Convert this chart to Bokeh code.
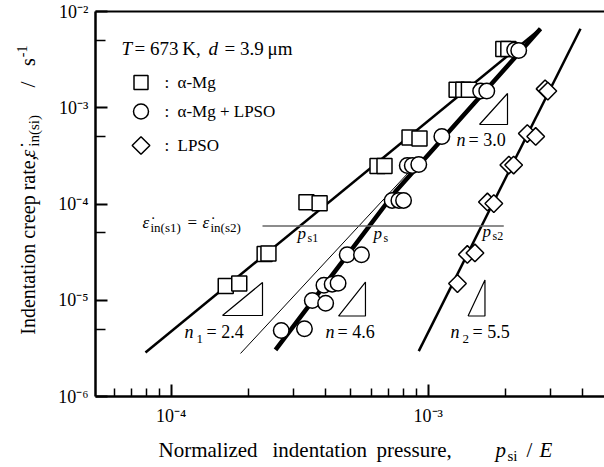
import math
from bokeh.plotting import figure
from bokeh.layouts import column, row
from bokeh.models import (Label, FixedTicker, LogAxis, CustomJSTickFormatter)
from bokeh.embed import file_html
from bokeh.resources import INLINE

# ---------------- data ----------------
# alpha-Mg (squares)
sq_x = [1.63e-4, 1.84e-4, 2.31e-4, 2.39e-4, 3.36e-4, 3.78e-4, 6.35e-4, 6.76e-4,
        8.46e-4, 9.25e-4, 1.29e-3, 1.37e-3, 1.44e-3, 1.96e-3, 2.05e-3]
sq_y = [1.41e-5, 1.49e-5, 3.02e-5, 3.06e-5, 1.04e-4, 1.02e-4, 2.48e-4, 2.48e-4,
        4.91e-4, 4.79e-4, 1.54e-3, 1.54e-3, 1.54e-3, 4.08e-3, 4.08e-3]
# alpha-Mg + LPSO (circles)
ci_x = [2.68e-4, 3.30e-4, 3.54e-4, 3.99e-4, 3.93e-4, 4.23e-4, 4.46e-4, 4.84e-4,
        5.50e-4, 7.24e-4, 7.69e-4, 8.02e-4, 8.29e-4, 8.67e-4, 9.19e-4, 1.13e-3,
        1.60e-3, 1.69e-3, 2.17e-3, 2.25e-3]
ci_y = [4.85e-6, 5.05e-6, 9.94e-6, 9.32e-6, 1.43e-5, 1.47e-5, 1.50e-5, 2.97e-5,
        2.97e-5, 1.09e-4, 1.09e-4, 1.09e-4, 2.51e-4, 2.51e-4, 2.57e-4, 5.03e-4,
        1.49e-3, 1.49e-3, 3.98e-3, 3.94e-3]
# LPSO (diamonds)
di_x = [1.30e-3, 1.42e-3, 1.52e-3, 1.70e-3, 1.80e-3, 2.06e-3, 2.15e-3, 2.43e-3,
        2.62e-3, 2.85e-3, 2.92e-3]
di_y = [1.49e-5, 2.99e-5, 3.10e-5, 1.05e-4, 1.01e-4, 2.54e-4, 2.54e-4, 5.40e-4,
        5.03e-4, 1.57e-3, 1.49e-3]

# fitted lines
fit_sq_x = [7.94e-5, 2.735e-3]
fit_sq_y = [2.86e-6, 6.61e-3]
fit_ci_x = [2.546e-4, 7.46e-4, 2.735e-3]
fit_ci_y = [3.05e-6, 1.349e-4, 6.61e-3]
thin_x = [1.861e-4, 8.46e-4]
thin_y = [2.80e-6, 2.18e-4]
fit_di_x = [9.19e-4, 3.914e-3]
fit_di_y = [2.96e-6, 6.61e-3]
eq_rate = 5.9e-5
eq_x = [2.266e-4, 1.968e-3]

# slope triangles: (x_left, x_right, y_low, y_high)
tri_n1 = (1.583e-4, 2.266e-4, 6.94e-6, 1.529e-5)
tri_n46 = (4.477e-4, 5.70e-4, 6.86e-6, 1.547e-5)
tri_n30 = (1.583e-3, 2.035e-3, 6.70e-4, 1.406e-3)
tri_n2 = (1.429e-3, 1.663e-3, 6.86e-6, 1.623e-5)

x_major = [1e-4, 1e-3]
x_minor = [6e-5, 7e-5, 8e-5, 9e-5, 2e-4, 3e-4, 4e-4, 5e-4, 6e-4, 7e-4, 8e-4, 9e-4,
           2e-3, 3e-3, 4e-3]
y_major = [1e-6, 1e-5, 1e-4, 1e-3, 1e-2]
y_minor = [5e-6, 5e-5, 5e-4, 5e-3]

# ---------------- layout ----------------
W, H = 604, 467
LEFT_W = 48              # strip holding the y title
MAIN_H = 430             # height of the main figure
FL, FT = 95, 11          # frame left / top (page px)
FB = 396                 # frame bottom
XS, YS = 257.0, 96.25    # px per decade
XL = -4.0 - (170.7 - FL) / XS
XR = XL + (W - FL) / XS
BASE_K = 0.37            # baseline correction (fraction of font size)

SERIF = "Liberation Serif"

p = figure(width=W - LEFT_W, height=MAIN_H, x_axis_type="log", y_axis_type="log",
           x_range=(10 ** XL, 10 ** XR), y_range=(1e-6, 1e-2),
           output_backend="svg", toolbar_location=None, title=None,
           min_border_left=FL - LEFT_W, min_border_right=0, min_border_top=FT,
           min_border_bottom=MAIN_H - FB)
p.grid.visible = False
p.outline_line_color = None
p.background_fill_color = "white"
p.border_fill_color = "white"


def pos(x, y):
    """page pixel -> data coordinates of the main plot"""
    return 10 ** (XL + (x - FL) / XS), 10 ** (-2.0 - (y - FT) / YS)


fmt = CustomJSTickFormatter(code="""
const sup = {"-":"\u207b","0":"\u2070","1":"\u00b9","2":"\u00b2","3":"\u00b3",
             "4":"\u2074","5":"\u2075","6":"\u2076","7":"\u2077","8":"\u2078","9":"\u2079"};
const e = Math.round(Math.log10(tick));
return "10" + String(e).split("").map(c => sup[c]).join("");
""")

for ax, maj, mnr in ((p.xaxis[0], x_major, x_minor), (p.yaxis[0], y_major, y_minor)):
    ax.ticker = FixedTicker(ticks=maj, minor_ticks=mnr)
    ax.formatter = fmt
    ax.axis_line_width = 2.5
    ax.major_tick_line_width = 2
    ax.minor_tick_line_width = 1.5
    ax.major_tick_in = 12
    ax.major_tick_out = 0
    ax.minor_tick_out = 0
    ax.major_label_text_font = SERIF
    ax.major_label_text_font_size = "18px"
    ax.major_label_text_color = "black"
p.xaxis[0].minor_tick_in = 8
p.yaxis[0].minor_tick_in = 10
p.xaxis[0].major_label_standoff = 9
p.yaxis[0].major_label_standoff = 7

top = LogAxis(ticker=FixedTicker(ticks=[], minor_ticks=[]), axis_line_width=2,
              major_tick_out=0, minor_tick_out=0, major_label_standoff=0)
p.add_layout(top, "above")

# ---------------- lines ----------------
p.line(fit_sq_x, fit_sq_y, line_color="black", line_width=2.5)
p.line(thin_x, thin_y, line_color="black", line_width=1)
p.line(fit_ci_x, fit_ci_y, line_color="black", line_width=4.5)
p.line(fit_di_x, fit_di_y, line_color="black", line_width=2.5)
p.line(eq_x, [eq_rate, eq_rate], line_color="#666666", line_width=1.5)

for (x0, x1, y0, y1) in (tri_n1, tri_n46, tri_n30, tri_n2):
    p.line([x0, x1, x1, x0], [y0, y0, y1, y0], line_color="black", line_width=1.2)

# ---------------- markers ----------------
p.scatter(sq_x, sq_y, marker="square", size=15, fill_color="white",
          line_color="black", line_width=1.5)
p.scatter(ci_x, ci_y, marker="circle", size=15.5, fill_color="white",
          line_color="black", line_width=1.5)
p.scatter(di_x, di_y, marker="square", angle=math.pi / 4, size=12.5,
          fill_color="white", line_color="black", line_width=1.5)

# legend markers
lx, ly = pos(140.5, 82)
p.scatter([lx], [ly], marker="square", size=14, fill_color="white",
          line_color="black", line_width=1.5)
lx, ly = pos(140.5, 111)
p.scatter([lx], [ly], marker="circle", size=15, fill_color="white",
          line_color="black", line_width=1.5)
lx, ly = pos(140.5, 145)
p.scatter([lx], [ly], marker="square", angle=math.pi / 4, size=12.5,
          fill_color="white", line_color="black", line_width=1.5)


def put(fig, conv, x, y, s, size=16, italic=False, angle=0.0):
    if angle == 0.0:
        y = y - BASE_K * size
    else:
        x = x - BASE_K * size
    dx, dy = conv(x, y)
    fig.add_layout(Label(x=dx, y=dy, text=s, text_font=SERIF,
                         text_font_size=f"{size}px",
                         text_font_style="italic" if italic else "normal",
                         text_align="left", text_baseline="alphabetic",
                         angle=angle, text_color="black"))


def txt(x, y, s, size=16, italic=False):
    put(p, pos, x, y, s, size, italic)


EPS = "\u03b5\u0307"

# header and legend text
txt(121, 55, "T", 19, italic=True)
txt(134, 55, "= 673\u2009K,", 19)
txt(208, 55, "d", 19, italic=True)
txt(224, 55, "= 3.9\u2009\u03bcm", 19)
for yy, s in ((88, "\u03b1-Mg"), (117, "\u03b1-Mg + LPSO"), (151, "LPSO")):
    txt(164, yy, ":", 17)
    txt(177, yy, s, 17)

# equal-rate annotation
txt(142, 228, EPS, 17, italic=True)
txt(150, 232, "in(s1)", 13)
txt(187, 228, "=", 17)
txt(202, 228, EPS, 17, italic=True)
txt(210, 232, "in(s2)", 13)
txt(297, 239, "p", 17, italic=True)
txt(307, 242, "s1", 12)
txt(373, 239, "p", 17, italic=True)
txt(383, 242, "s", 12)
txt(482, 237, "p", 17, italic=True)
txt(492, 240, "s2", 12)

# slope labels
txt(456, 146, "n", 18, italic=True)
txt(468, 146, "= 3.0", 18)
txt(325, 338, "n", 18, italic=True)
txt(337, 338, "= 4.6", 18)
txt(184, 338, "n", 18, italic=True)
txt(196, 343, "1", 13)
txt(206, 338, "= 2.4", 18)
txt(450, 338, "n", 18, italic=True)
txt(462, 343, "2", 13)
txt(472, 338, "= 5.5", 18)


# ---------------- side strips with axis titles ----------------
def strip(w, h):
    f = figure(width=w, height=h, x_range=(0, w), y_range=(0, h),
               output_backend="svg", toolbar_location=None, title=None,
               x_axis_location=None, y_axis_location=None,
               min_border=0, min_border_left=0, min_border_right=0,
               min_border_top=0, min_border_bottom=0)
    f.grid.visible = False
    f.outline_line_color = None
    f.background_fill_color = "white"
    f.border_fill_color = "white"
    return f


ly_fig = strip(LEFT_W, MAIN_H)
bx_fig = strip(W, H - MAIN_H)


def conv_left(x, y):
    return x, MAIN_H - y


def conv_bottom(x, y):
    return x, H - y


R = math.pi / 2
put(ly_fig, conv_left, 35, 361, "Indentation creep rate,", 20, angle=R)
put(ly_fig, conv_left, 35, 163, EPS, 20, italic=True, angle=R)
put(ly_fig, conv_left, 39, 151, "in(si)", 15, angle=R)
put(ly_fig, conv_left, 35, 85, "/", 22, angle=R)
put(ly_fig, conv_left, 35, 61, "s", 20, angle=R)
put(ly_fig, conv_left, 27, 51, "-1", 14, angle=R)

put(bx_fig, conv_bottom, 158, 457, "Normalized", 21)
put(bx_fig, conv_bottom, 272, 457, "indentation", 21)
put(bx_fig, conv_bottom, 376, 457, "pressure,", 21)
put(bx_fig, conv_bottom, 495, 457, "p", 21, italic=True)
put(bx_fig, conv_bottom, 507, 461, "si", 15)
put(bx_fig, conv_bottom, 526, 457, "/", 21)
put(bx_fig, conv_bottom, 539, 457, "E", 21, italic=True)

layout = column(row(ly_fig, p), bx_fig)
open("out.html", "w").write(file_html(layout, INLINE))
